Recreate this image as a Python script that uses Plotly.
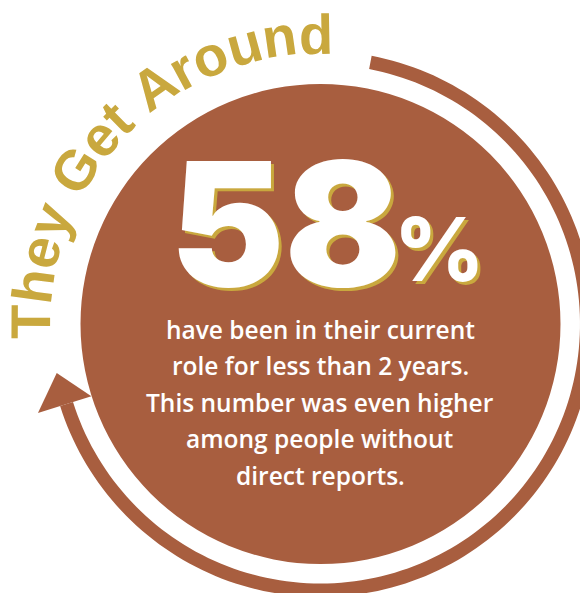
import math
import plotly.graph_objects as go

# ---------------- data ----------------
title_text = "They Get Around"
stat_value = ["58"]
stat_suffix = ["%"]
body_lines = [
    "have been in their current",
    "role for less than 2 years.",
    "This number was even higher",
    "among people without",
    "direct reports.",
]

# ---------------- styling / geometry ----------------
W, H = 588, 593
BROWN = "#A85E3F"
GOLD = "#C9A83E"
WHITE = "#FFFFFF"

CX, CY, R = 312.5, 316.0, 240.0
RING_IN, RING_OUT = 259.5, 273.0
RING_START, RING_END = 280.8, 522.5   # screen degrees (clockwise)
ARROW_TIP = 529.5
ARROW_HALF = 28.0

# Arial/Liberation Sans Bold advance widths (per em)
ADV = {" ": 0.278, "A": 0.722, "G": 0.778, "T": 0.611, "d": 0.611, "e": 0.556,
       "h": 0.611, "n": 0.611, "o": 0.611, "r": 0.389, "t": 0.333, "u": 0.611,
       "y": 0.556}
TITLE_FS = 56
TITLE_RBASE = 271.0
TITLE_RMID = 290.0
TITLE_MID = 224.7


def pt(r, phi):
    a = math.radians(phi)
    return CX + r * math.cos(a), CY + r * math.sin(a)


def arc_pts(r, a0, a1, n=160):
    return [pt(r, a0 + (a1 - a0) * i / n) for i in range(n + 1)]


fig = go.Figure()

# invisible trace to hold axes
fig.add_trace(go.Scatter(x=[0, W], y=[0, H], mode="markers",
                         marker=dict(opacity=0), hoverinfo="skip", showlegend=False))

shapes = []
# main disc
shapes.append(dict(type="circle", xref="x", yref="y",
                   x0=CX - R, x1=CX + R, y0=CY - R, y1=CY + R,
                   fillcolor=BROWN, line=dict(width=0), layer="below"))

# ring band
outer = arc_pts(RING_OUT, RING_START, RING_END)
inner = arc_pts(RING_IN, RING_END, RING_START)
pts = outer + inner
path = "M " + " L ".join(f"{x:.2f},{y:.2f}" for x, y in pts) + " Z"
shapes.append(dict(type="path", path=path, fillcolor=BROWN, line=dict(width=0), layer="below"))

# arrow head
rc = (RING_IN + RING_OUT) / 2 + 2
b1 = pt(rc - ARROW_HALF, RING_END)
b2 = pt(rc + ARROW_HALF, RING_END)
tp = pt(rc, ARROW_TIP)
apath = f"M {b1[0]:.2f},{b1[1]:.2f} L {b2[0]:.2f},{b2[1]:.2f} L {tp[0]:.2f},{tp[1]:.2f} Z"
shapes.append(dict(type="path", path=apath, fillcolor=BROWN, line=dict(width=0), layer="below"))

annotations = []

# curved title
total = sum(ADV[c] for c in title_text) * TITLE_FS
span_deg = math.degrees(total / TITLE_RBASE)
phi0 = TITLE_MID - span_deg / 2
s = 0.0
for c in title_text:
    w = ADV[c] * TITLE_FS
    sc = s + w / 2
    s += w
    if c == " ":
        continue
    phi = phi0 + math.degrees(sc / TITLE_RBASE)
    x, y = pt(TITLE_RMID, phi)
    ang = phi + 90
    while ang > 180:
        ang -= 360
    annotations.append(dict(x=x, y=y, xref="x", yref="y", text=c, showarrow=False,
                            xanchor="center", yanchor="middle", textangle=ang,
                            font=dict(family="Liberation Sans", size=TITLE_FS,
                                      color=GOLD, weight="bold")))

# big stat with gold shadow
BIG_FS = 172
PCT_FS = 88
for dx, dy, col in [(3, 3, GOLD), (0, 0, WHITE)]:
    annotations.append(dict(x=395 + dx, y=214.5 + dy, xref="x", yref="y", text=stat_value[0],
                            showarrow=False, xanchor="right", yanchor="middle",
                            font=dict(family="Inter", size=BIG_FS, color=col, weight=900)))
    annotations.append(dict(x=384 + dx, y=241 + dy, xref="x", yref="y", text=stat_suffix[0],
                            showarrow=False, xanchor="left", yanchor="middle",
                            font=dict(family="Inter", size=PCT_FS, color=col, weight=800)))

# body text
BODY_FS = 24.5
for i, line in enumerate(body_lines):
    annotations.append(dict(x=312, y=321 + 36.5 * i, xref="x", yref="y", text=line,
                            showarrow=False, xanchor="center", yanchor="middle",
                            font=dict(family="Open Sans", size=BODY_FS, color=WHITE, weight=600)))

fig.update_layout(
    width=W, height=H,
    margin=dict(l=0, r=0, t=0, b=0, pad=0),
    paper_bgcolor="white", plot_bgcolor="white",
    xaxis=dict(range=[0, W], visible=False, fixedrange=True),
    yaxis=dict(range=[H, 0], visible=False, fixedrange=True),
    shapes=shapes, annotations=annotations, showlegend=False,
)

fig.write_html("out.html")
